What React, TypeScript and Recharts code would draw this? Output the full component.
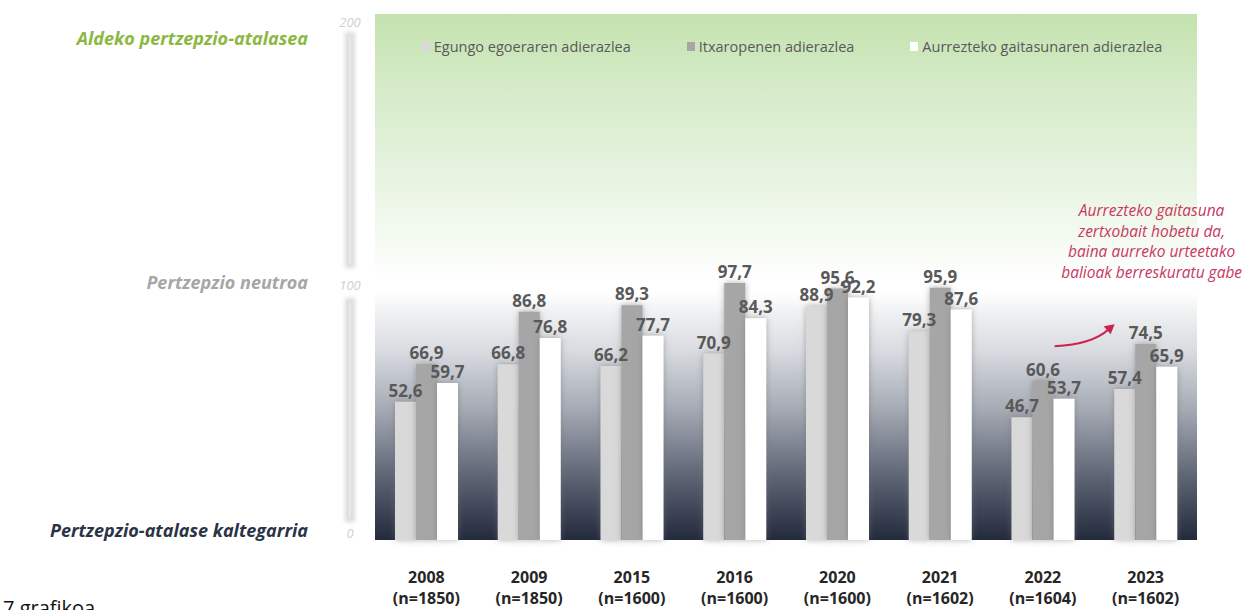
import {
  BarChart,
  Bar,
  XAxis,
  YAxis,
  CartesianGrid,
  Legend,
  ReferenceDot,
} from 'recharts'

const years = ['2008', '2009', '2015', '2016', '2020', '2021', '2022', '2023']
const sampleSizes = ['1850', '1850', '1600', '1600', '1600', '1602', '1604', '1602']
const currentSituation = [52.6, 66.8, 66.2, 70.9, 88.9, 79.3, 46.7, 57.4]
const expectations = [66.9, 86.8, 89.3, 97.7, 95.6, 95.9, 60.6, 74.5]
const savingCapacity = [59.7, 76.8, 77.7, 84.3, 92.2, 87.6, 53.7, 65.9]

const seriesNames = [
  'Egungo egoeraren adierazlea',
  'Itxaropenen adierazlea',
  'Aurrezteko gaitasunaren adierazlea',
]
const seriesColors = ['#d9d9d9', '#a6a6a6', '#ffffff']

const yTicks = [0, 100, 200]
const levelLabels: Record<number, string> = {
  200: 'Aldeko pertzepzio-atalasea',
  100: 'Pertzepzio neutroa',
  0: 'Pertzepzio-atalase kaltegarria',
}
const levelColors: Record<number, string> = {
  200: '#8ab842',
  100: '#a6a6a6',
  0: '#2b3346',
}

const noteLines = [
  'Aurrezteko gaitasuna',
  'zertxobait hobetu da,',
  'baina aurreko urteetako',
  'balioak berreskuratu gabe',
]

const data = years.map((year, i) => ({
  year,
  current: currentSituation[i],
  expect: expectations[i],
  saving: savingCapacity[i],
}))

const W = 1253
const H = 610
const MARGIN = { top: 14, right: 56, bottom: 0, left: 0 }
const X_AXIS_H = 70
const PLOT_H = H - MARGIN.top - MARGIN.bottom - X_AXIS_H
const FONT = '"Open Sans", "Noto Sans", sans-serif'

const fmt = (v: any) => String(v).replace('.', ',')

function YTick({ x, y, payload }: any) {
  const v = payload.value as number
  const numDy = v === 0 ? -7 : 8
  const labelDy = v === 200 ? 24 : v === 100 ? 5 : -10
  const step = PLOT_H / 2
  const lineX = x - 25
  let line = null
  if (v === 0) {
    line = { top: y - step + 21, bottom: y - 18 }
  } else if (v === 100) {
    line = { top: y - step + 18, bottom: y - 9 }
  }
  return (
    <g>
      {line && (
        <g>
          <rect
            x={lineX - 5}
            y={line.top}
            width={10}
            height={line.bottom - line.top}
            fill="#dcdcdc"
            filter="url(#softBlur)"
          />
          <line x1={lineX} x2={lineX} y1={line.top + 4} y2={line.bottom - 4} stroke="#f4f4f4" strokeWidth={1} />
        </g>
      )}
      <text
        x={lineX}
        y={y + numDy}
        textAnchor="middle"
        dominantBaseline="central"
        fontFamily={FONT}
        fontStyle="italic"
        fontSize={13}
        fill="#cfcfcf"
      >
        {v}
      </text>
      <text
        x={x - 67}
        y={y + labelDy}
        textAnchor="end"
        dominantBaseline="central"
        fontFamily={FONT}
        fontStyle="italic"
        fontWeight={700}
        fontSize={18}
        fill={levelColors[v]}
      >
        {levelLabels[v]}
      </text>
    </g>
  )
}

function XTick({ x, y, payload, index }: any) {
  return (
    <g fontFamily={FONT} fontWeight={700} fontSize={16} fill="#262626">
      <text x={x} y={y + 37} textAnchor="middle" dominantBaseline="central">
        {payload.value}
      </text>
      <text x={x} y={y + 58} textAnchor="middle" dominantBaseline="central">
        (n={sampleSizes[index]})
      </text>
    </g>
  )
}

function LegendBox() {
  return (
    <div
      style={{
        display: 'flex',
        justifyContent: 'center',
        gap: 56,
        fontFamily: FONT,
        fontSize: 14.5,
        color: '#595959',
        paddingLeft: 12,
      }}
    >
      {seriesNames.map((name, i) => (
        <div key={name} style={{ display: 'flex', alignItems: 'center', gap: 4 }}>
          <span style={{ width: 8, height: 9, background: seriesColors[i], display: 'inline-block' }} />
          <span>{name}</span>
        </div>
      ))}
    </div>
  )
}

function ArrowMark({ cx, cy }: any) {
  const tx = cx - 31
  const ty = cy
  return (
    <g>
      <path
        d={`M ${tx - 60} ${ty + 22} Q ${tx - 22} ${ty + 20} ${tx - 6} ${ty + 5}`}
        fill="none"
        stroke="#cf2050"
        strokeWidth={2}
      />
      <polygon
        points={`${tx},${ty} ${tx - 11},${ty + 2} ${tx - 4},${ty + 10}`}
        fill="#cf2050"
      />
    </g>
  )
}

function NoteText({ cx, cy }: any) {
  return (
    <text
      x={cx + 6}
      y={cy}
      textAnchor="middle"
      fontFamily={FONT}
      fontStyle="italic"
      fontSize={15.5}
      fill="#c8385f"
    >
      {noteLines.map((l, i) => (
        <tspan key={l} x={cx + 6} dy={i === 0 ? 5 : 20.5}>
          {l}
        </tspan>
      ))}
    </text>
  )
}

const labelStyle = {
  position: 'top' as const,
  fill: '#595959',
  fontSize: 17,
  fontWeight: 700,
  fontFamily: FONT,
  formatter: fmt,
}

export default function App() {
  return (
    <div style={{ position: 'absolute', left: 0, top: 0, width: W, height: H, background: '#fff', overflow: 'hidden' }}>
      <BarChart width={W} height={H} data={data} margin={MARGIN} barGap={0} barSize={21}>
        <defs>
          <linearGradient id="plotBg" x1="0" y1="0" x2="0" y2="1">
            <stop offset="0%" stopColor="#c4e2ae" />
            <stop offset="14%" stopColor="#d5ebc8" />
            <stop offset="30%" stopColor="#e6f3df" />
            <stop offset="44%" stopColor="#f6fbf3" />
            <stop offset="50%" stopColor="#ffffff" />
            <stop offset="53%" stopColor="#ffffff" />
            <stop offset="57%" stopColor="#eff0f2" />
            <stop offset="64%" stopColor="#d8dbe0" />
            <stop offset="75%" stopColor="#a6abb5" />
            <stop offset="88%" stopColor="#5d6474" />
            <stop offset="100%" stopColor="#232a3c" />
          </linearGradient>
          <filter id="barGlow" x="-60%" y="-20%" width="220%" height="140%">
            <feDropShadow dx="0" dy="0" stdDeviation="3" floodColor="#6f6f6f" floodOpacity="0.55" />
          </filter>
          <filter id="softBlur" x="-100%" y="-10%" width="300%" height="120%">
            <feGaussianBlur stdDeviation="2" />
          </filter>
        </defs>
        <CartesianGrid horizontal={false} vertical={false} fill="url(#plotBg)" />
        <XAxis
          dataKey="year"
          height={X_AXIS_H}
          axisLine={false}
          tickLine={false}
          tickSize={0}
          tickMargin={0}
          tick={<XTick />}
          interval={0}
        />
        <YAxis
          domain={[0, 200]}
          ticks={yTicks}
          width={375}
          axisLine={false}
          tickLine={false}
          tickSize={0}
          tickMargin={0}
          tick={<YTick />}
        />
        <Legend
          layout="horizontal"
          verticalAlign="middle"
          content={<LegendBox />}
          wrapperStyle={{ top: 37, left: 375, width: 822 }}
        />
        <Bar dataKey="current" name={seriesNames[0]} fill={seriesColors[0]} filter="url(#barGlow)" isAnimationActive={false} label={labelStyle} />
        <Bar dataKey="expect" name={seriesNames[1]} fill={seriesColors[1]} filter="url(#barGlow)" isAnimationActive={false} label={labelStyle} />
        <Bar dataKey="saving" name={seriesNames[2]} fill={seriesColors[2]} filter="url(#barGlow)" isAnimationActive={false} label={labelStyle} />
        <ReferenceDot x={years[7]} y={82} shape={<ArrowMark />} />
        <ReferenceDot x={years[7]} y={125} shape={<NoteText />} />
      </BarChart>
      <div style={{ position: 'absolute', left: 3, top: 594, fontFamily: FONT, fontSize: 20, color: '#111' }}>
        7 grafikoa
      </div>
    </div>
  )
}
